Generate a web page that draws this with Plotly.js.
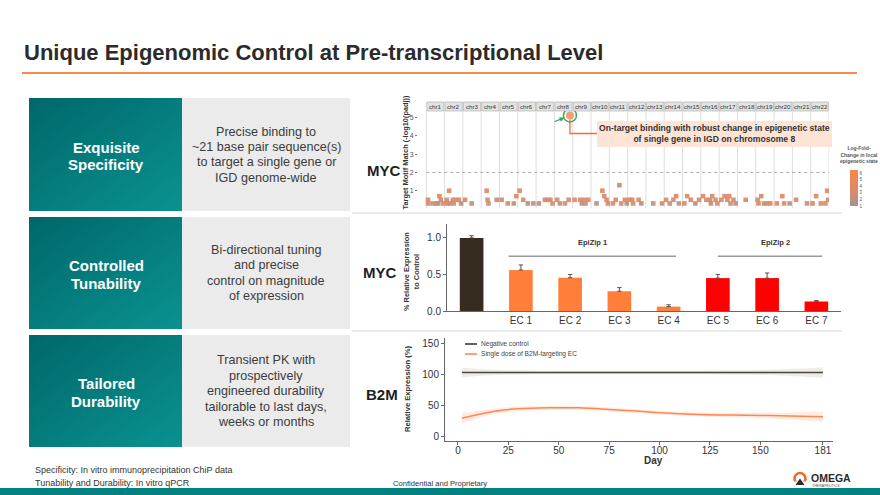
<!DOCTYPE html>
<html><head><meta charset="utf-8">
<script src="https://cdn.plot.ly/plotly-3.0.1.min.js"></script>
<style>html,body{margin:0;padding:0;background:#fff}#chart{width:880px;height:495px}</style>
</head><body><div id="chart"></div><script>
// ---------- DATA ----------
const chromNames = ['chr1','chr2','chr3','chr4','chr5','chr6','chr7','chr8','chr9','chr10','chr11','chr12','chr13','chr14','chr15','chr16','chr17','chr18','chr19','chr20','chr21','chr22'];
// off-target peaks: chromosome, relative position within chromosome, score, log-fold-change
const ptChrom = [1,1,1,1,1,1,1,1, 2,2,2,2,2,2,2,2,2, 3,3, 4,4,4,4, 5,5,5,5, 6,6,6,6, 7,7,7,7,7, 8,8,8,8, 9,9,9,9,9,9, 10,10,10,10,10, 11,11,11,11,11,11, 12,12,12,12,12, 13,13, 14,14,14,14,14, 15,15,15,15,15, 16,16,16,16,16,16,16, 17,17,17,17,17,17,17, 18, 19,19,19,19,19,19, 20,20,20,20, 21,21, 22,22,22,22,22,22];
const ptPos   = [.10,.10,.35,.55,.72,.80,.92,.65, .12,.15,.25,.30,.45,.50,.62,.78,.90, .12,.48, .30,.35,.40,.85, .12,.45,.78,.92, .10,.30,.55,.85, .15,.48,.62,.78,.90, .15,.30,.58,.78, .10,.40,.50,.62,.70,.85, .30,.62,.72,.85,.92, .20,.35,.55,.65,.85,.95, .10,.25,.30,.60,.75, .40,.88, .10,.30,.50,.65,.80, .10,.25,.45,.70,.90, .12,.30,.50,.55,.62,.80,.90, .12,.30,.45,.55,.62,.78,.90, .45, .10,.15,.30,.45,.62,.80, .15,.45,.55,.85, .20,.80, .10,.30,.55,.80,.90,.95];
const ptScore = [.5,.3,.3,.3,.7,.5,.3,.3, .5,.3,1.0,.3,.5,.3,.5,.5,.3, .5,.3, 1.0,.5,.3,.5, .5,.3,.3,.7, 1.0,.5,.3,.3, .3,.5,.5,.5,.3, .5,.3,.3,.5, .5,.5,.3,.5,.3,.5, .3,1.0,.7,.5,.3, .3,.5,1.3,.3,.5,.3, .5,.5,.3,.5,.3, .3,.3, .5,.3,.5,.7,.3, .3,.7,.5,.3,.5, .7,.5,.5,.3,.7,.5,.3, .5,.7,.5,.7,.3,.5,.3, .5, .5,.3,.7,.3,.3,.3, .3,.7,.3,.3, .5,.3, .3,.7,.3,.3,1.0,.5];
const ptLfc   = [3,3,2,3,4,3,3,2, 3,3,4,2,3,3,3,3,2, 3,2, 4,3,3,2, 3,3,2,4, 4,3,2,2, 2,3,3,3,3, 3,2,3,3, 3,3,2,3,3,3, 2,4,3,3,3, 3,3,2,3,3,2, 3,5,3,3,2, 2,3, 3,3,3,4,2, 3,3,3,2,3, 3,3,3,2,3,3,3, 3,3,3,4,3,3,2, 3, 3,3,3,2,3,3, 3,4,3,2, 3,2, 3,3,3,3,4,3];
const hitChrom = [8], hitPos = [0.85], hitScore = [5.13], hitLfc = [6];
const lfcTicks = [1,2,3,4,5,6];

const barLabels = ['Control','EC 1','EC 2','EC 3','EC 4','EC 5','EC 6','EC 7'];
const barGroup  = ['control','EpiZip 1','EpiZip 1','EpiZip 1','EpiZip 1','EpiZip 2','EpiZip 2','EpiZip 2'];
const barValues = [1.00, 0.56, 0.455, 0.27, 0.06, 0.45, 0.45, 0.13];
const barErr    = [0.03, 0.07, 0.045, 0.05, 0.025, 0.05, 0.07, 0.012];

const days     = [2, 10, 20, 30, 45, 60, 75, 90, 105, 120, 135, 150, 165, 181];
const ctrlMean = [103,103,103,103,103,103,103,103,103,103,103,103,103,103];
const ctrlHalf = [8, 5.5, 4, 3.5, 3, 3, 3, 3, 3, 3, 3.5, 4, 5.5, 8.5];
const b2mMean  = [30, 36, 42, 45, 46.5, 46.5, 44, 41, 38, 36, 35, 34.5, 33.5, 32.5];
const b2mHalf  = [8.5, 6, 4, 3.5, 3, 3, 3, 3, 3, 3, 3.5, 4, 5.5, 8.5];
const dayTicks = [0, 25, 50, 75, 100, 125, 150, 181];

// ---------- HELPERS ----------
const W = 880, H = 495;
const X = p => p / W, Y = p => 1 - p / H;
const F = 'Arial, "Liberation Sans", sans-serif';
const ann = [], shp = [], imgs = [];
function txt(t, x, y, size, color, opts) {
  ann.push(Object.assign({text: t, x: X(x), y: Y(y), xref: 'paper', yref: 'paper', showarrow: false,
    xanchor: 'center', yanchor: 'middle', font: {family: F, size: size, color: color}}, opts || {}));
}
function lines(arr, cx, y0, dy, size, color, bold) {
  arr.forEach((t, i) => txt(bold ? '<b>' + t + '</b>' : t, cx, y0 + i * dy, size, color));
}
function rect(x0, y0, x1, y1, fill, layer) {
  shp.push({type: 'rect', xref: 'paper', yref: 'paper', x0: X(x0), x1: X(x1), y0: Y(y1), y1: Y(y0), fillcolor: fill, line: {width: 0}, layer: layer || 'below'});
}
function pline(x0, y0, x1, y1, color, width) {
  shp.push({type: 'line', xref: 'paper', yref: 'paper', x0: X(x0), x1: X(x1), y0: Y(y0), y1: Y(y1), line: {color: color, width: width}});
}
function teal(x0, y0, x1, y1) {
  const svg = "<svg xmlns='http://www.w3.org/2000/svg' width='100' height='100' preserveAspectRatio='none'><defs><linearGradient id='g' x1='0' y1='0' x2='1' y2='1'><stop offset='0' stop-color='#00676a'/><stop offset='1' stop-color='#0a9290'/></linearGradient></defs><rect width='100' height='100' fill='url(#g)'/></svg>";
  imgs.push({source: 'data:image/svg+xml;charset=utf-8,' + encodeURIComponent(svg), xref: 'paper', yref: 'paper',
    x: X(x0), y: Y(y0), sizex: (x1 - x0) / W, sizey: (y1 - y0) / H, xanchor: 'left', yanchor: 'top', sizing: 'stretch', layer: 'below'});
}

// ---------- SLIDE FRAME ----------
txt('<b>Unique Epigenomic Control at Pre-transcriptional Level</b>', 22, 52, 22, '#2b2b2b', {xanchor: 'left'});
pline(22, 73, 857, 73, '#f58b4c', 2);

// row boxes
const rows = [[98, 211], [217, 329], [335, 447]];
rows.forEach(r => { teal(29, r[0], 182, r[1]); rect(182, r[0], 350, r[1], '#ebebeb'); });
lines(['Exquisite', 'Specificity'], 106, 147, 17, 15, '#ffffff', true);
lines(['Controlled', 'Tunability'], 106, 265, 18, 15, '#ffffff', true);
lines(['Tailored', 'Durability'], 106, 383, 18, 15, '#ffffff', true);
lines(['Precise binding to', '~21 base pair sequence(s)', 'to target a single gene or', 'IGD genome-wide'], 266, 132, 15.2, 12.6, '#3c3c3c');
lines(['Bi-directional tuning', 'and precise', 'control on magnitude', 'of expression'], 266, 250, 15.3, 12.6, '#3c3c3c');
lines(['Transient PK with', 'prospectively', 'engineered durability', 'tailorable to last days,', 'weeks or months'], 266, 360, 15.5, 12.6, '#3c3c3c');
txt('<b>MYC</b>', 365, 170, 15, '#1f1f1f', {xanchor: 'left'});
txt('<b>MYC</b>', 361, 272, 15, '#1f1f1f', {xanchor: 'left'});
txt('<b>B2M</b>', 364, 394, 15, '#1f1f1f', {xanchor: 'left'});
pline(352, 213, 842, 213, '#e6e6e6', 1.5);
pline(352, 331, 842, 331, '#e6e6e6', 1.5);

// footer
txt('Specificity: In vitro immunoprecipitation ChiP data', 33, 470, 9, '#333', {xanchor: 'left'});
txt('Tunability and Durability: In vitro qPCR', 33, 483, 9, '#333', {xanchor: 'left'});
txt('Confidential and Proprietary', 440, 483, 7.6, '#333');
rect(0, 488, 880, 495, '#01817f');
// logo
shp.push({type: 'circle', xref: 'paper', yref: 'paper', x0: X(794.5), x1: X(805.5), y0: Y(484), y1: Y(473), line: {color: '#f26a2e', width: 2.6}, fillcolor: 'rgba(0,0,0,0)'});
rect(792, 481.5, 808, 487, '#ffffff', 'above');
shp.push({type: 'path', xref: 'paper', yref: 'paper', path: `M ${X(795.5)} ${Y(485)} L ${X(800)} ${Y(478.5)} L ${X(804.5)} ${Y(485)} Z`, fillcolor: '#2b2b2b', line: {width: 0}});
txt('<b>OMEGA</b>', 809, 478, 10.5, '#2b2b2b', {xanchor: 'left'});
txt('THERAPEUTICS', 810, 486, 3.6, '#555', {xanchor: 'left'});

// ---------- CHART 1 (genome-wide binding) ----------
const c1 = {px0: 418, px1: 829, r0: -0.45, r1: 22};
const c1x = (c, p) => c - 1 + p;
const pxToC1 = px => c1.r0 + (px - c1.px0) / (c1.px1 - c1.px0) * (c1.r1 - c1.r0);
const c1y = {py0: 208, py1: 111, r0: 0.05, r1: 5.37};
const pyToC1 = py => c1y.r0 + (c1y.py0 - py) / (c1y.py0 - c1y.py1) * (c1y.r1 - c1y.r0);
for (let i = 0; i <= chromNames.length; i++) {
  shp.push({type: 'line', xref: 'x', yref: 'paper', x0: i, x1: i, y0: Y(208), y1: Y(111), line: {color: '#dedede', width: 1}, layer: 'below'});
}
chromNames.forEach((n, i) => {
  shp.push({type: 'rect', xref: 'x', yref: 'paper', x0: i + 0.03, x1: i + 0.97, y0: Y(111), y1: Y(102), fillcolor: '#e3e3e3', line: {color: '#a8a8a8', width: 0.6}});
  ann.push({text: n, xref: 'x', yref: 'paper', x: i + 0.5, y: Y(106.5), showarrow: false, font: {family: F, size: 6.2, color: '#333'}, xanchor: 'center', yanchor: 'middle'});
});
shp.push({type: 'line', xref: 'x', yref: 'y', x0: 0, x1: 22, y0: 2, y1: 2, line: {color: '#aaaaaa', width: 1, dash: 'dot'}, layer: 'below'});
const hitX = c1x(hitChrom[0], hitPos[0]);
// callout
rect(597, 121, 832, 147, '#fde4d4');
shp.push({type: 'path', xref: 'x', yref: 'y', path: `M ${hitX} ${hitScore[0] - 0.22} V ${pyToC1(133.5)} H ${pxToC1(597)}`, line: {color: '#f26d2d', width: 1.3}});
txt('<b>On-target binding with robust change in epigenetic state<br>of single gene in IGD on chromosome 8</b>', 714.5, 134, 8.6, '#333');
ann.push({text: '', x: hitX, y: hitScore[0], xref: 'x', yref: 'y', showarrow: true, ax: -17, ay: 7, arrowcolor: '#39a75d', arrowwidth: 1.2, arrowhead: 2, arrowsize: 0.8, standoff: 6});
txt('<b>Target Motif Match (-log10(padj))</b>', 404.5, 152, 7.4, '#333', {textangle: -90});
txt('<b>Log-Fold-<br>Change in local<br>epigenetic state</b>', 859, 154, 5, '#555');

// ---------- CHART 2 (bars) ----------
const groupColor = {'control': '#352b1e', 'EpiZip 1': '#ff7e3a', 'EpiZip 2': '#ff0000'};
const epiZip = [{name: 'EpiZip 1', x0: 0.75, x1: 4.15}, {name: 'EpiZip 2', x0: 5.0, x1: 7.12}];
epiZip.forEach(g => {
  shp.push({type: 'line', xref: 'x2', yref: 'y2', x0: g.x0, x1: g.x1, y0: 0.75, y1: 0.75, line: {color: '#666', width: 1}});
  ann.push({text: '<b>' + g.name + '</b>', xref: 'x2', yref: 'y2', x: (g.x0 + g.x1) / 2 + (g.name === 'EpiZip 2' ? 0.1 : 0), y: 0.935, showarrow: false, font: {family: F, size: 7.5, color: '#333'}});
});
txt('<b>% Relative Expression<br>to Control</b>', 411, 272, 7.4, '#333', {textangle: -90});

// ---------- CHART 3 (durability) ----------
txt('<b>Relative Expression (%)</b>', 407, 389, 7.6, '#333', {textangle: -90});
txt('<b>Day</b>', 653, 460, 10, '#333');
pline(465, 344, 477, 344, '#3b3530', 1.6);
pline(465, 354, 477, 354, '#ff8a55', 1.6);
txt('Negative control', 479, 343.5, 6.6, '#444', {xanchor: 'left'});
txt('Single dose of B2M-targeting EC', 479, 353.5, 6.6, '#444', {xanchor: 'left'});

// ---------- TRACES ----------
const traces = [
  {type: 'scatter', mode: 'markers', xaxis: 'x', yaxis: 'y', hoverinfo: 'skip',
   x: ptChrom.map((c, i) => c1x(c, ptPos[i])), y: ptScore,
   marker: {symbol: 'square', size: 4.6, opacity: 0.92, color: ptLfc, cmin: 1, cmax: 6.5,
     colorscale: [[0, '#9d9595'], [0.35, '#d68b6c'], [1, '#f7874a']],
     colorbar: {x: X(850), xanchor: 'left', y: Y(170), yanchor: 'top', len: 36, lenmode: 'pixels', thickness: 8, thicknessmode: 'pixels',
       outlinewidth: 0, tickvals: lfcTicks, tickfont: {family: F, size: 4.5, color: '#555'}, ticks: '', xpad: 0, ypad: 0, tickcolor: '#fff'}}},
  {type: 'scatter', mode: 'markers', xaxis: 'x', yaxis: 'y', hoverinfo: 'skip',
   x: hitChrom.map((c, i) => c1x(c, hitPos[i])), y: hitScore,
   marker: {symbol: 'circle', size: 8, color: '#f3a07a', line: {width: 0}}},
  {type: 'scatter', mode: 'markers', xaxis: 'x', yaxis: 'y', hoverinfo: 'skip',
   x: hitChrom.map((c, i) => c1x(c, hitPos[i])), y: hitScore,
   marker: {symbol: 'circle-open', size: 13, color: '#39a75d', line: {width: 1.5, color: '#39a75d'}}},
  {type: 'bar', xaxis: 'x2', yaxis: 'y2', hoverinfo: 'skip',
   x: barLabels.map((_, i) => i), y: barValues, width: 0.48,
   marker: {color: barGroup.map(g => groupColor[g]), line: {width: 0}},
   error_y: {type: 'data', symmetric: false, array: barErr, arrayminus: barErr.map(() => 0), color: '#555', thickness: 1, width: 2.2}},
  {type: 'scatter', mode: 'lines', xaxis: 'x3', yaxis: 'y3', hoverinfo: 'skip', x: days, y: ctrlMean.map((v, i) => v + ctrlHalf[i]), line: {width: 0, shape: 'spline'}},
  {type: 'scatter', mode: 'lines', xaxis: 'x3', yaxis: 'y3', hoverinfo: 'skip', x: days, y: ctrlMean.map((v, i) => v - ctrlHalf[i]), line: {width: 0, shape: 'spline'}, fill: 'tonexty', fillcolor: 'rgba(205,200,185,0.35)'},
  {type: 'scatter', mode: 'lines', xaxis: 'x3', yaxis: 'y3', hoverinfo: 'skip', x: days, y: b2mMean.map((v, i) => v + b2mHalf[i]), line: {width: 0, shape: 'spline'}},
  {type: 'scatter', mode: 'lines', xaxis: 'x3', yaxis: 'y3', hoverinfo: 'skip', x: days, y: b2mMean.map((v, i) => v - b2mHalf[i]), line: {width: 0, shape: 'spline'}, fill: 'tonexty', fillcolor: 'rgba(255,175,140,0.25)'},
  {type: 'scatter', mode: 'lines', xaxis: 'x3', yaxis: 'y3', hoverinfo: 'skip', x: days, y: ctrlMean, line: {color: '#4a443e', width: 1.5, shape: 'spline'}},
  {type: 'scatter', mode: 'lines', xaxis: 'x3', yaxis: 'y3', hoverinfo: 'skip', x: days, y: b2mMean, line: {color: '#ff8650', width: 1.5, shape: 'spline'}}
];

const axBase = {showgrid: false, zeroline: false, fixedrange: true};
const tf = {family: F, size: 10, color: '#333'};
const layout = {
  width: W, height: H, margin: {l: 0, r: 0, t: 0, b: 0}, paper_bgcolor: '#fff', plot_bgcolor: 'rgba(0,0,0,0)',
  showlegend: false, font: {family: F},
  xaxis: Object.assign({}, axBase, {domain: [X(c1.px0), X(c1.px1)], range: [c1.r0, c1.r1], showticklabels: false, ticks: '', showline: false, anchor: 'y'}),
  yaxis: Object.assign({}, axBase, {domain: [Y(c1y.py0), Y(c1y.py1)], range: [c1y.r0, c1y.r1], tickvals: [1, 2, 3, 4, 5], ticktext: ['1', '2', '3', '4', '5'], ticks: 'outside', ticklen: 2, tickcolor: '#777', tickfont: {family: F, size: 7, color: '#555'}, showticklabels: true, showline: false, anchor: 'x'}),
  xaxis2: Object.assign({}, axBase, {domain: [X(447), X(841)], range: [-0.5, 7.5], tickvals: barLabels.map((_, i) => i), ticktext: barLabels.map((l, i) => barGroup[i] === 'control' ? '' : l), ticks: '', showline: true, linecolor: '#666', linewidth: 1, tickfont: tf, anchor: 'y2'}),
  yaxis2: Object.assign({}, axBase, {domain: [Y(311), Y(224)], range: [0, 1.19], tickvals: [0, 0.5, 1], tickformat: '.1f', ticks: 'outside', ticklen: 3, tickcolor: '#666', showline: true, linecolor: '#666', linewidth: 1, tickfont: tf, anchor: 'x2'}),
  xaxis3: Object.assign({}, axBase, {domain: [X(445), X(833)], range: [-6.4, 186], tickvals: dayTicks, ticks: 'outside', ticklen: 3, tickcolor: '#666', ticklabelstandoff: -3, showline: true, linecolor: '#666', linewidth: 1, tickfont: tf, anchor: 'y3'}),
  yaxis3: Object.assign({}, axBase, {domain: [Y(441), Y(338)], range: [-6.4, 158], tickvals: [0, 50, 100, 150], ticks: 'outside', ticklen: 3, tickcolor: '#666', showline: true, linecolor: '#666', linewidth: 1, tickfont: tf, anchor: 'x3'}),
  shapes: shp, annotations: ann, images: imgs
};
Plotly.newPlot('chart', traces, layout, {staticPlot: true, displayModeBar: false});
</script></body></html>
